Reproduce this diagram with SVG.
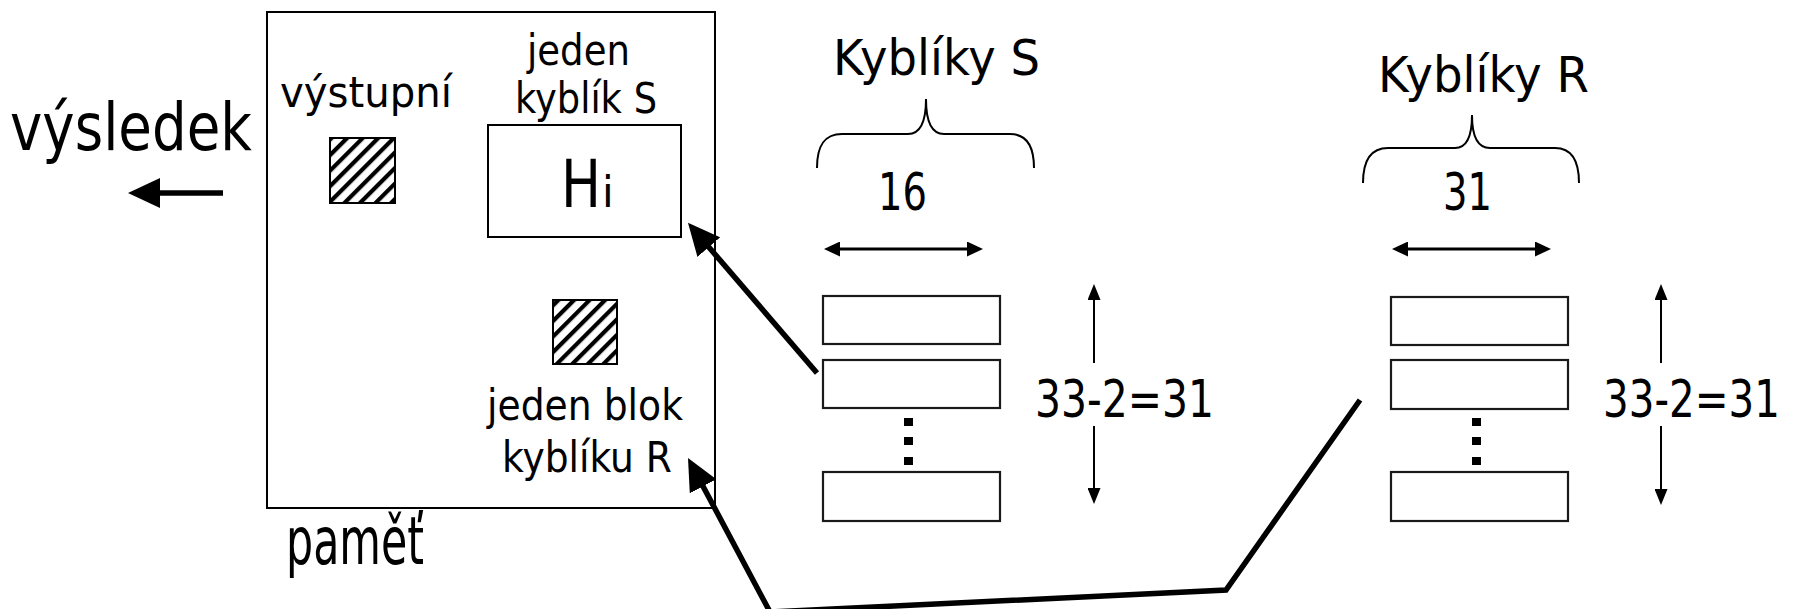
<svg xmlns="http://www.w3.org/2000/svg" width="1796" height="609" viewBox="0 0 1796 609">
<defs>
<style>
text{font-family:"DejaVu Sans","Liberation Sans",sans-serif;fill:#000}
.box{fill:#fff;stroke:#000;stroke-width:2}
.bk{fill:#fff;stroke:#1a1a1a;stroke-width:2.2}
.brace{fill:none;stroke:#000;stroke-width:2}
.thick{fill:none;stroke:#000;stroke-width:5.5;stroke-linejoin:miter}
.dim{fill:none;stroke:#000;stroke-width:3}
.vdim{fill:none;stroke:#000;stroke-width:2}
.hatch{fill:url(#hatch);stroke:#000;stroke-width:2}
</style>
<pattern id="hatch" patternUnits="userSpaceOnUse" width="11" height="11" patternTransform="rotate(45)">
<rect width="11" height="11" fill="#fff"/>
<rect width="4.2" height="11" fill="#000"/>
</pattern>
<marker id="big" markerUnits="userSpaceOnUse" markerWidth="32" markerHeight="30" viewBox="0 0 32 30" refX="12" refY="15" orient="auto">
<path d="M0,0 L32,15 L0,30 z" fill="#000"/>
</marker>
<marker id="sm" markerUnits="userSpaceOnUse" markerWidth="16" markerHeight="15" viewBox="0 0 16 15" refX="8" refY="7.5" orient="auto-start-reverse">
<path d="M0,0 L16,7.5 L0,15 z" fill="#000"/>
</marker>
<marker id="vs" markerUnits="userSpaceOnUse" markerWidth="16" markerHeight="13" viewBox="0 0 16 13" refX="8" refY="6.5" orient="auto">
<path d="M0,0 L16,6.5 L0,13 z" fill="#000"/>
</marker>
</defs>
<rect width="1796" height="609" fill="#fff"/>

<g id="vysledek">
<text x="10" y="150" font-size="65" textLength="242" lengthAdjust="spacingAndGlyphs">výsledek</text>
</g>

<g id="pamet">
<rect class="box" x="267" y="12" width="448" height="496"/>
<text x="286" y="564" font-size="66" textLength="138" lengthAdjust="spacingAndGlyphs">paměť</text>
</g>

<g id="vystupni">
<text x="280" y="107" font-size="42" textLength="172" lengthAdjust="spacingAndGlyphs">výstupní</text>
<rect class="hatch" x="330" y="138" width="65" height="65"/>
</g>

<g id="kyblikS">
<text x="527" y="65" font-size="42" textLength="103" lengthAdjust="spacingAndGlyphs">jeden</text>
<text x="515" y="113" font-size="42" textLength="142" lengthAdjust="spacingAndGlyphs">kyblík S</text>
<rect class="box" x="488" y="125" width="193" height="112"/>
<text x="561" y="207" font-size="66"><tspan textLength="40" lengthAdjust="spacingAndGlyphs">H</tspan><tspan font-size="42" dx="1">i</tspan></text>
</g>

<g id="blokR">
<rect class="hatch" x="553" y="300" width="64" height="64"/>
<text x="487" y="420" font-size="42" textLength="196" lengthAdjust="spacingAndGlyphs">jeden blok</text>
<text x="502" y="472" font-size="42" textLength="170" lengthAdjust="spacingAndGlyphs">kyblíku R</text>
</g>

<g id="kybliky-S">
<text x="833" y="75" font-size="49" textLength="207" lengthAdjust="spacingAndGlyphs">Kyblíky S</text>
<path class="brace" d="M817,168 C817,146 824,134 842,134 L908,134 C920,134 926,122 926,99 C926,122 932,134 944,134 L1010,134 C1027,134 1034,146 1034,168"/>
<text x="878" y="210" font-size="51" textLength="49" lengthAdjust="spacingAndGlyphs">16</text>
<line class="dim" x1="832" y1="249" x2="975" y2="249" marker-start="url(#sm)" marker-end="url(#sm)"/>
<rect class="bk" x="823" y="296" width="177" height="48"/>
<rect class="bk" x="823" y="360" width="177" height="48"/>
<rect class="bk" x="823" y="472" width="177" height="49"/>
<rect x="904" y="418" width="9" height="8"/>
<rect x="904" y="437" width="9" height="8"/>
<rect x="904" y="457" width="9" height="8"/>
<line class="vdim" x1="1094" y1="363" x2="1094" y2="292" marker-end="url(#vs)"/>
<line class="vdim" x1="1094" y1="426" x2="1094" y2="496" marker-end="url(#vs)"/>
<text x="1035" y="417" font-size="51" textLength="179" lengthAdjust="spacingAndGlyphs">33-2=31</text>
</g>

<g id="kybliky-R">
<text x="1378" y="92" font-size="49" textLength="211" lengthAdjust="spacingAndGlyphs">Kyblíky R</text>
<path class="brace" d="M1363,183 C1363,161 1370,148 1388,148 L1455,148 C1467,148 1472,136 1472,115 C1472,136 1478,148 1490,148 L1555,148 C1572,148 1579,161 1579,183"/>
<text x="1443" y="210" font-size="51" textLength="49" lengthAdjust="spacingAndGlyphs">31</text>
<line class="dim" x1="1400" y1="249" x2="1543" y2="249" marker-start="url(#sm)" marker-end="url(#sm)"/>
<rect class="bk" x="1391" y="297" width="177" height="48"/>
<rect class="bk" x="1391" y="360" width="177" height="49"/>
<rect class="bk" x="1391" y="472" width="177" height="49"/>
<rect x="1472" y="418" width="9" height="8"/>
<rect x="1472" y="437" width="9" height="8"/>
<rect x="1472" y="457" width="9" height="8"/>
<line class="vdim" x1="1661" y1="363" x2="1661" y2="292" marker-end="url(#vs)"/>
<line class="vdim" x1="1661" y1="426" x2="1661" y2="497" marker-end="url(#vs)"/>
<text x="1603" y="417" font-size="51" textLength="177" lengthAdjust="spacingAndGlyphs">33-2=31</text>
</g>

<g id="connectors">
<line class="thick" x1="223" y1="193" x2="148" y2="193" marker-end="url(#big)"/>
<line class="thick" x1="817" y1="373" x2="701" y2="238" marker-end="url(#big)"/>
<polyline class="thick" points="1360,400 1226,590 770,612 697.4,475.7" marker-end="url(#big)"/>
</g>
</svg>
